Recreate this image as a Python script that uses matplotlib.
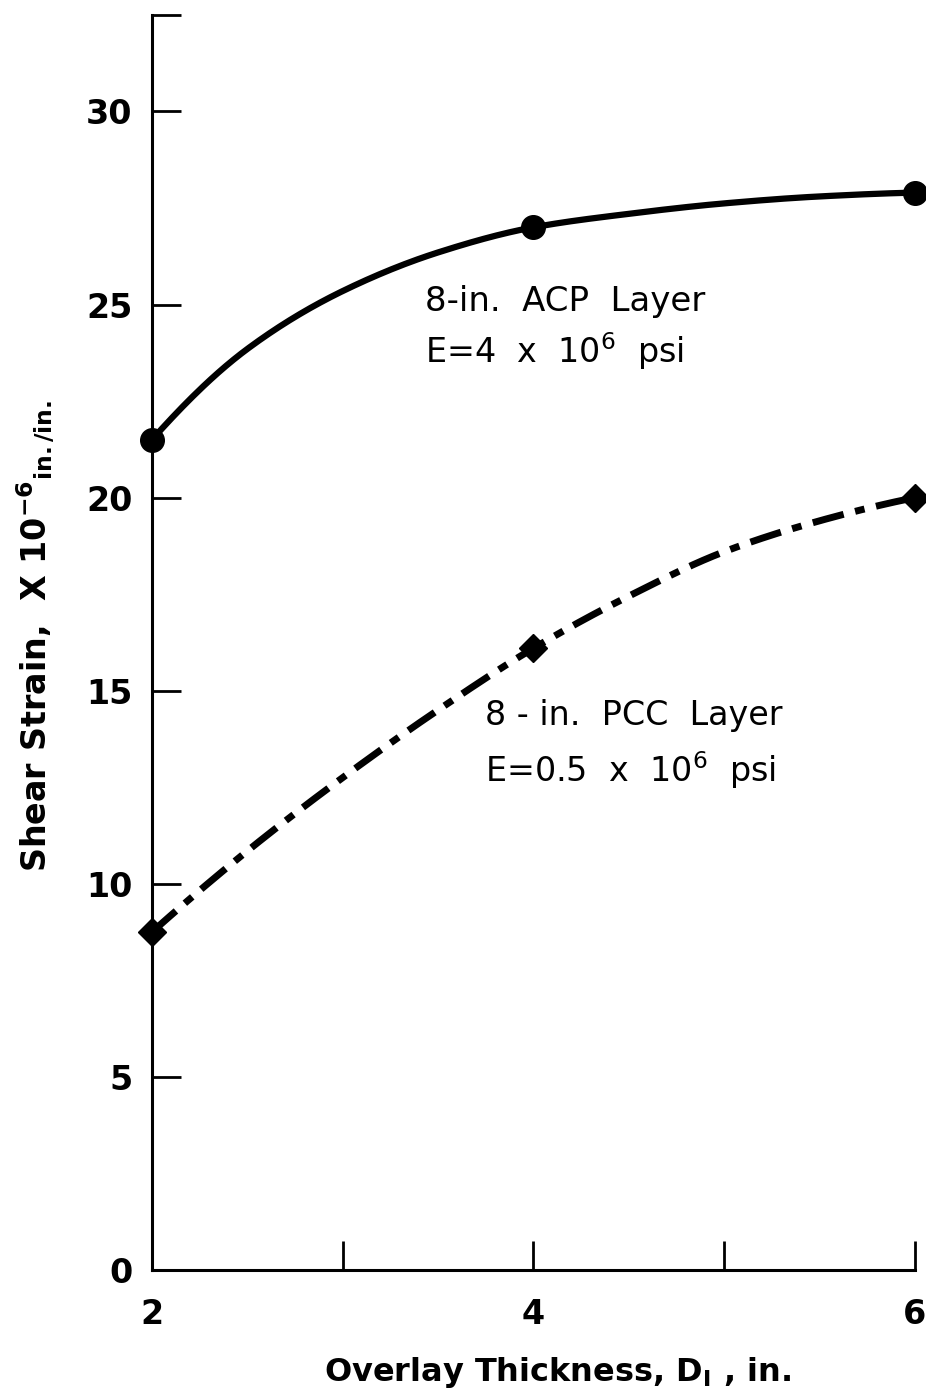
import numpy as np
import matplotlib
matplotlib.use("Agg")
import matplotlib.pyplot as plt

# ---- data ----
thickness = [2, 4, 6]
acp_strain = [21.5, 27.0, 27.9]
pcc_strain = [8.75, 16.1, 20.0]

# hand-drawn curve readings (x, y) along each line
acp_curve_x = [2.0, 2.5, 3.0, 3.5, 4.0, 4.5, 5.0, 5.5, 6.0]
acp_curve_y = [21.5, 23.85, 25.35, 26.35, 27.0, 27.35, 27.62, 27.8, 27.9]
pcc_curve_x = [2.0, 2.5, 3.0, 3.5, 4.0, 4.5, 5.0, 5.5, 6.0]
pcc_curve_y = [8.75, 10.85, 12.75, 14.5, 16.1, 17.45, 18.6, 19.4, 20.0]

x_ticks = [2, 3, 4, 5, 6]
x_tick_labels = ["2", "", "4", "", "6"]
y_ticks = [0, 5, 10, 15, 20, 25, 30, 32.5]
y_tick_labels = ["0", "5", "10", "15", "20", "25", "30", ""]


def smooth(xs, ys, n=300):
    """Monotone cubic (PCHIP-style) curve through the read points, for drawing."""
    x = np.asarray(xs, float)
    y = np.asarray(ys, float)
    h = np.diff(x)
    d = np.diff(y) / h
    m = np.zeros_like(y)
    m[0] = ((2 * h[0] + h[1]) * d[0] - h[0] * d[1]) / (h[0] + h[1])
    m[-1] = ((2 * h[-1] + h[-2]) * d[-1] - h[-1] * d[-2]) / (h[-1] + h[-2])
    for i in range(1, len(x) - 1):
        if d[i - 1] * d[i] > 0:
            w1 = 2 * h[i] + h[i - 1]
            w2 = h[i] + 2 * h[i - 1]
            m[i] = (w1 + w2) / (w1 / d[i - 1] + w2 / d[i])
    xx = np.linspace(x[0], x[-1], n)
    idx = np.clip(np.searchsorted(x, xx) - 1, 0, len(x) - 2)
    t = (xx - x[idx]) / h[idx]
    h00 = 2 * t**3 - 3 * t**2 + 1
    h10 = t**3 - 2 * t**2 + t
    h01 = -2 * t**3 + 3 * t**2
    h11 = t**3 - t**2
    yy = h00 * y[idx] + h10 * h[idx] * m[idx] + h01 * y[idx + 1] + h11 * h[idx] * m[idx + 1]
    return xx, yy


plt.rcParams["font.family"] = ["DejaVu Sans"]
fig = plt.figure(figsize=(9.26, 13.96), dpi=100)
ax = fig.add_axes([0.1641, 0.0903, 0.9881 - 0.1641, 0.9893 - 0.0903])

ax.set_xlim(2, 6)
ax.set_ylim(0, 32.5)

ax.spines["top"].set_visible(False)
ax.spines["right"].set_visible(False)
for s in ("left", "bottom"):
    ax.spines[s].set_linewidth(2.2)
    ax.spines[s].set_color("black")

ax.set_xticks(x_ticks)
ax.set_xticklabels(x_tick_labels)
ax.set_yticks(y_ticks)
ax.set_yticklabels(y_tick_labels)
ax.tick_params(axis="both", direction="in", length=21, width=2.0, colors="black",
               labelsize=24)
ax.tick_params(axis="y", pad=14)
ax.tick_params(axis="x", pad=20)
for lab in ax.get_xticklabels() + ax.get_yticklabels():
    lab.set_fontweight("bold")

# curves
cx, cy = smooth(acp_curve_x, acp_curve_y)
ax.plot(cx, cy, color="black", lw=4.5, solid_capstyle="round", clip_on=False)
px, py = smooth(pcc_curve_x, pcc_curve_y)
ax.plot(px, py, color="black", lw=5, linestyle=(0, (4.6, 1.7, 1.4, 1.7)),
        dash_capstyle="butt", clip_on=False)

# markers
ax.plot(thickness, acp_strain, linestyle="none", marker="o", ms=17,
        color="black", clip_on=False, zorder=5)
ax.plot(thickness, pcc_strain, linestyle="none", marker="D", ms=14,
        color="black", clip_on=False, zorder=5)

# annotations
ax.text(3.43, 25.07, "8-in.  ACP  Layer", fontsize=24.5, ha="left", va="center")
ax.text(3.43, 23.8, r"E=4  x  10$^{\mathregular{6}}$  psi", fontsize=24,
        ha="left", va="center")
ax.text(3.745, 14.35, "8 - in.  PCC  Layer", fontsize=24, ha="left", va="center")
ax.text(3.745, 12.95, r"E=0.5  x  10$^{\mathregular{6}}$  psi", fontsize=24,
        ha="left", va="center")

ax.set_xlabel(r"Overlay Thickness, D$_{\mathregular{I}}$ , in.", fontsize=23,
              fontweight="bold")
ax.xaxis.set_label_coords(0.531, -0.068)
ax.set_ylabel(r"Shear Strain,  X 10$^{\mathregular{-6}}$$_{\mathregular{in./in.}}$",
              fontsize=24, fontweight="bold")
ax.yaxis.set_label_coords(-0.125, 0.505)

fig.savefig("out.png", dpi=100)
